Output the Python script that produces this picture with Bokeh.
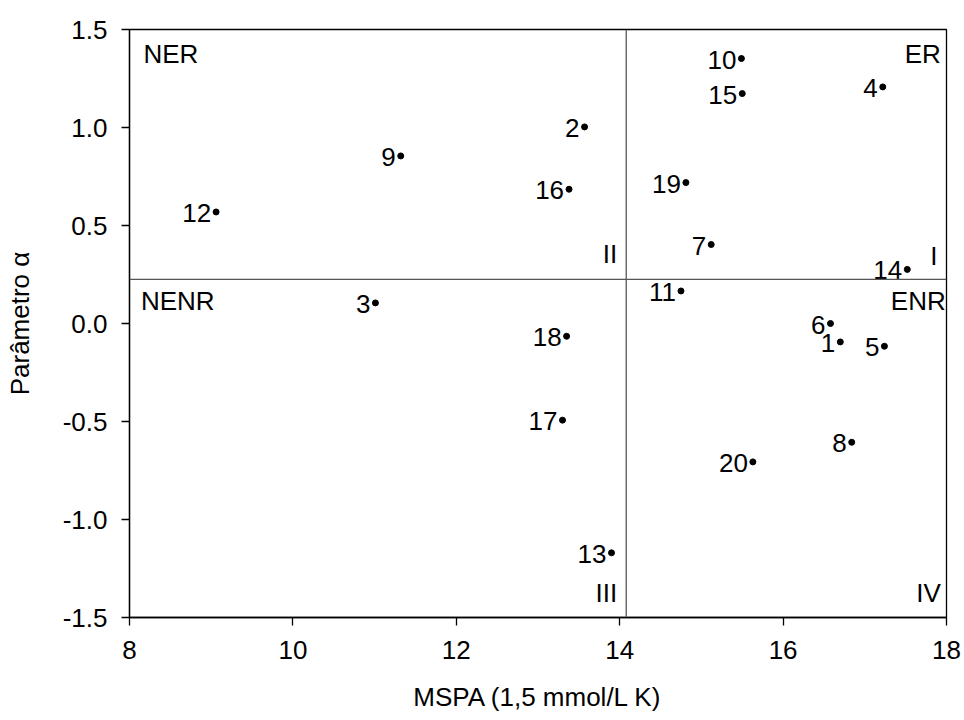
from bokeh.plotting import figure
from bokeh.models import ColumnDataSource, Range1d, FixedTicker, NumeralTickFormatter, Span, Label
from bokeh.core.properties import value
from bokeh.embed import file_html
from bokeh.resources import INLINE

# ---- data ----
ids = ["1", "2", "3", "4", "5", "6", "7", "8", "9", "10",
       "11", "12", "13", "14", "15", "16", "17", "18", "19", "20"]
mspa = [16.70, 13.57, 11.01, 17.22, 17.24, 16.58, 15.12, 16.84, 11.32, 15.49,
        14.75, 9.06, 13.90, 17.52, 15.50, 13.38, 13.30, 13.35, 14.81, 15.63]
alpha = [-0.094, 1.003, 0.105, 1.207, -0.116, 0.0, 0.403, -0.606, 0.855, 1.352,
         0.166, 0.569, -1.170, 0.276, 1.173, 0.685, -0.493, -0.065, 0.719, -0.706]
x_ticks = [8, 10, 12, 14, 16, 18]
y_ticks = [-1.5, -1.0, -0.5, 0.0, 0.5, 1.0, 1.5]
x_mean = 14.08
y_mean = 0.225
quadrant_labels = ["NER", "ER", "II", "I", "NENR", "ENR", "III", "IV"]

FONT = "Liberation Sans"
FS = "26px"

p = figure(width=964, height=720, output_backend="svg", toolbar_location=None,
           x_range=Range1d(8, 18), y_range=Range1d(-1.5, 1.5),
           min_border_left=129, min_border_right=18, min_border_top=29, min_border_bottom=103)
p.background_fill_color = "white"
p.border_fill_color = "white"
p.xgrid.visible = False
p.ygrid.visible = False
p.outline_line_color = "black"
p.outline_line_width = 1.3

for ax in (p.xaxis[0], p.yaxis[0]):
    ax.axis_line_color = "black"
    ax.axis_line_width = 1.3
    ax.major_tick_line_color = "black"
    ax.major_tick_line_width = 1.3
    ax.major_tick_out = 8
    ax.major_tick_in = 0
    ax.minor_tick_line_color = None
    ax.major_label_text_font = FONT
    ax.major_label_text_font_size = FS
    ax.major_label_text_color = "black"
    ax.axis_label_text_font = FONT
    ax.axis_label_text_font_size = FS
    ax.axis_label_text_font_style = "normal"
    ax.axis_label_text_color = "black"

p.xaxis.ticker = FixedTicker(ticks=x_ticks)
p.yaxis.ticker = FixedTicker(ticks=y_ticks)
p.yaxis.formatter = NumeralTickFormatter(format="0.0")
p.xaxis.axis_label = "MSPA (1,5 mmol/L K)"
p.yaxis.axis_label = "Parâmetro α"
p.xaxis.major_label_standoff = 15
p.yaxis.major_label_standoff = 14
p.xaxis.axis_label_standoff = 20
p.yaxis.axis_label_standoff = 25

p.add_layout(Span(location=x_mean, dimension="height", line_color="#555555", line_width=1.3))
p.add_layout(Span(location=y_mean, dimension="width", line_color="#555555", line_width=1.3))

src = ColumnDataSource(dict(x=mspa, y=alpha, t=ids))
p.scatter("x", "y", source=src, size=6, color="black")
p.text("x", "y", text="t", source=src, x_offset=-5, y_offset=1,
       text_align="right", text_baseline="middle",
       text_font=value(FONT), text_font_size=FS, text_color="black")

# quadrant annotations (name, x, y, align)
q_pos = [(8.17, 1.374, "left"), (17.93, 1.374, "right"),
         (13.97, 0.356, "right"), (17.89, 0.343, "right"),
         (8.14, 0.114, "left"), (17.99, 0.114, "right"),
         (13.97, -1.376, "right"), (17.93, -1.376, "right")]
for name, (qx, qy, al) in zip(quadrant_labels, q_pos):
    p.add_layout(Label(x=qx, y=qy, text=name, text_align=al, text_baseline="middle",
                       text_font=FONT, text_font_size=FS, text_color="black"))

open("out.html", "w").write(file_html(p, INLINE))
